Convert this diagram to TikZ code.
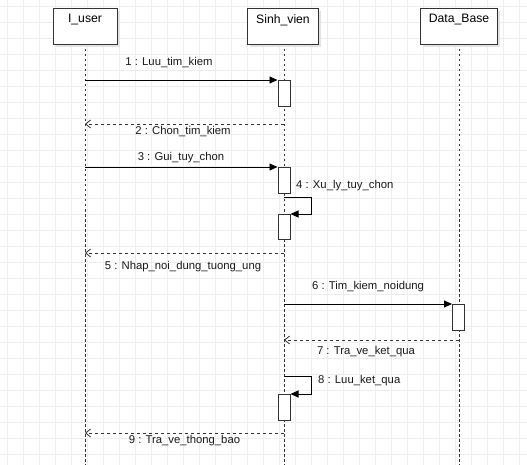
\documentclass[tikz,border=0pt]{standalone}
\usepackage{fontspec}
\setmainfont{Liberation Sans}
\usetikzlibrary{arrows.meta}
\definecolor{gridc}{HTML}{EDEDED}
\definecolor{linec}{HTML}{333333}
\definecolor{shadowc}{HTML}{E3E3E3}
\begin{document}
\begin{tikzpicture}[x=1pt,y=-1pt,
  header/.style={draw=linec,line width=1pt,fill=white,minimum width=#1,minimum height=36pt,inner sep=0pt,anchor=north west},
  act/.style={draw=linec,line width=1pt,fill=white,minimum width=12pt,minimum height=#1,inner sep=0pt,anchor=north west},
  lifeline/.style={draw=linec,line width=0.8pt,dash pattern=on 2.5pt off 2.5pt},
  msg/.style={draw=black,line width=0.9pt,-{Triangle[length=8pt,width=7pt]}},
  ret/.style={draw=linec,line width=0.8pt,dash pattern=on 3pt off 3pt,-{Straight Barb[length=5pt,width=8pt,line width=0.8pt]}},
  lbl/.style={font=\fontsize{11.3pt}{13pt}\selectfont,text=black!90,inner sep=0pt},
  hlbl/.style={font=\fontsize{12.2pt}{14pt}\selectfont,text=black,inner sep=0pt}]
\useasboundingbox (0,0) rectangle (527,465);
\fill[white] (0,0) rectangle (527,465);
% grid
\foreach \gx in {7.3,23.3,...,527} \draw[gridc,line width=0.7pt] (\gx,0) -- (\gx,465);
\foreach \gy in {6,22,...,465} \draw[gridc,line width=0.7pt] (0,\gy) -- (527,\gy);
% lifelines
\coordinate (uT) at (85,44); \coordinate (uB) at (85,465);
\coordinate (sT) at (284,44); \coordinate (sB) at (284,465);
\coordinate (dT) at (459,44); \coordinate (dB) at (459,465);
\draw[lifeline] (uT) -- (uB);
\draw[lifeline] (sT) -- (sB);
\draw[lifeline] (dT) -- (dB);
% header shadows
\fill[shadowc] (56,11) rectangle (120,47);
\fill[shadowc] (250,11) rectangle (321,47);
\fill[shadowc] (423,11) rectangle (500,47);
% headers
\node[header=64pt] (user) at (53,8) {};
\node[header=71pt] (sv) at (247,8) {};
\node[header=77pt] (db) at (420,8) {};
\node[hlbl] (userL) at (85,20) {I\_user};
\node[hlbl] (svL) at (283,20) {Sinh\_vien};
\node[hlbl] (dbL) at (459,20) {Data\_Base};
% activations
\node[act=26pt] (a1) at (277.5,80) {};
\node[act=26pt] (a3) at (277.5,167) {};
\node[act=25pt] (a4) at (277.5,214) {};
\node[act=25.5pt] (a6) at (452,304) {};
\node[act=25.5pt] (a8) at (277.5,394) {};
% message 1
\coordinate (m1s) at (85,80);
\draw[msg] (m1s) -- (a1.north west);
\node[lbl] (l1) at (169,63) {1 : Luu\_tim\_kiem};
% message 2
\coordinate (m2s) at (284,124); \coordinate (m2e) at (85,124);
\draw[ret] (m2s) -- (m2e);
\node[lbl] (l2) at (183,132) {2 : Chon\_tim\_kiem};
% message 3
\coordinate (m3s) at (85,167);
\draw[msg] (m3s) -- (a3.north west);
\node[lbl] (l3) at (181,157.5) {3 : Gui\_tuy\_chon};
% message 4 (self)
\coordinate (m4s) at (284,197);
\draw[msg] (m4s) -- (311,197) -- (311,214) -- (a4.north east);
\node[lbl,anchor=west] (l4) at (296,186) {4 : Xu\_ly\_tuy\_chon};
% message 5
\coordinate (m5s) at (284,253); \coordinate (m5e) at (85,253);
\draw[ret] (m5s) -- (m5e);
\node[lbl] (l5) at (183,266.5) {5 : Nhap\_noi\_dung\_tuong\_ung};
% message 6
\coordinate (m6s) at (284,304);
\draw[msg] (m6s) -- (a6.north west);
\node[lbl] (l6) at (368,287) {6 : Tim\_kiem\_noidung};
% message 7
\coordinate (m7s) at (459,340); \coordinate (m7e) at (284,340);
\draw[ret] (m7s) -- (m7e);
\node[lbl] (l7) at (366,352) {7 : Tra\_ve\_ket\_qua};
% message 8 (self)
\coordinate (m8s) at (284,376);
\draw[msg] (m8s) -- (311,376) -- (311,394) -- (a8.north east);
\node[lbl,anchor=west] (l8) at (318,381) {8 : Luu\_ket\_qua};
% message 9
\coordinate (m9s) at (284,433); \coordinate (m9e) at (85,433);
\draw[ret] (m9s) -- (m9e);
\node[lbl] (l9) at (184.5,441) {9 : Tra\_ve\_thong\_bao};
\end{tikzpicture}
\end{document}
